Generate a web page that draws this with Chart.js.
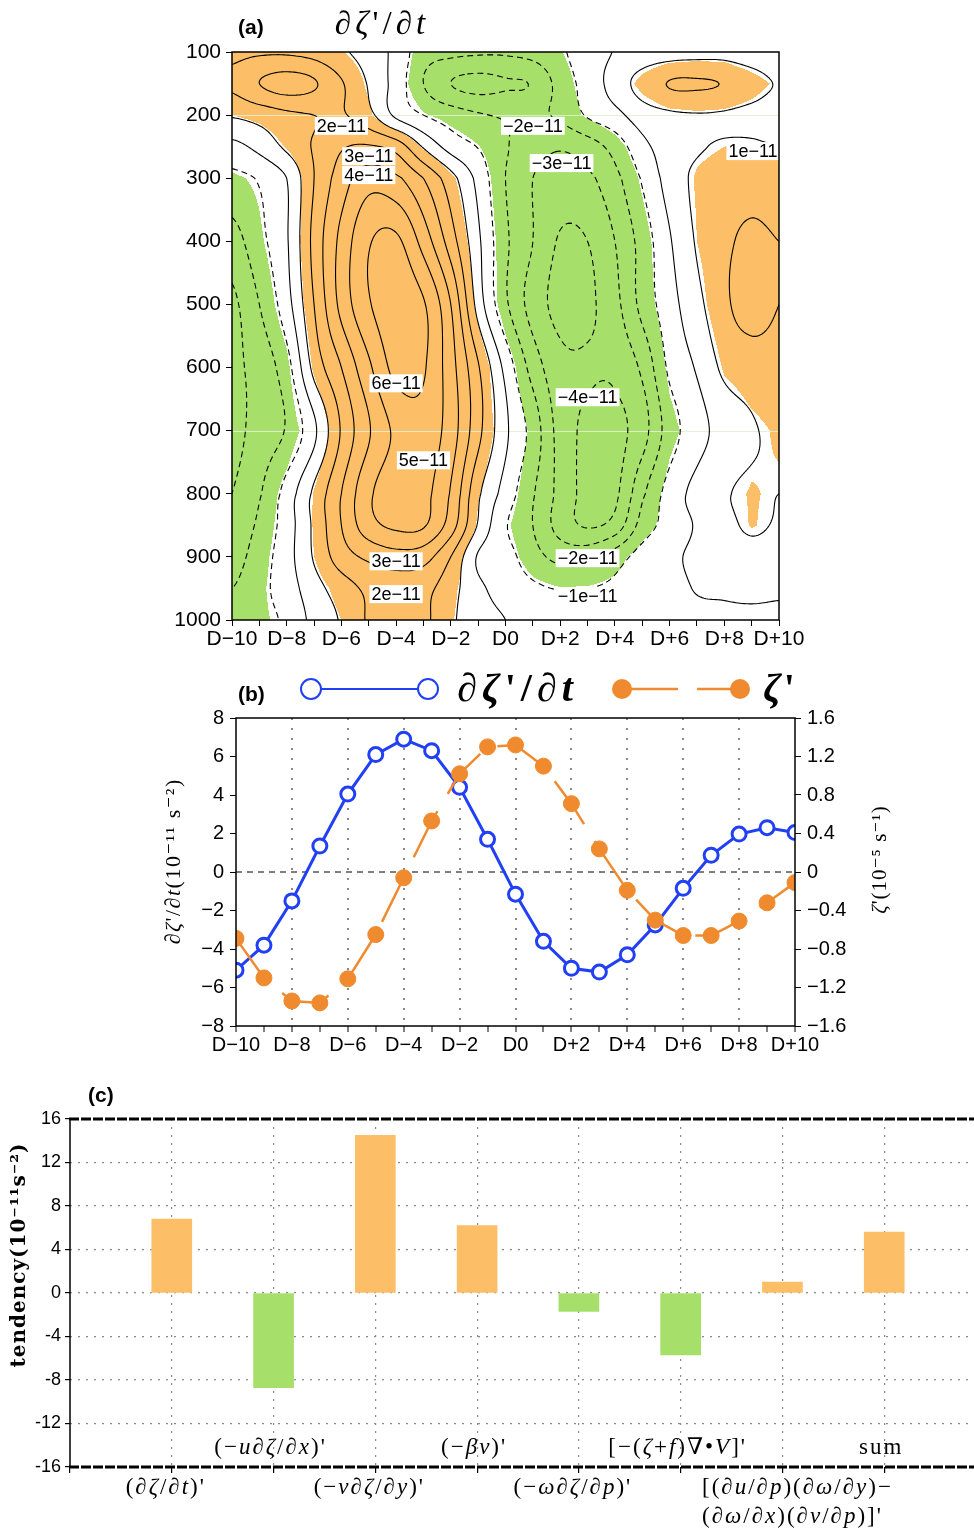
<!DOCTYPE html>
<html>
<head>
<meta charset="utf-8">
<script src="https://cdn.jsdelivr.net/npm/chart.js@4.4.1/dist/chart.umd.min.js"></script>
<style>
  html, body { margin: 0; padding: 0; background: #fff; overflow: hidden; width: 974px; height: 1531px; }
  #wrap { position: relative; width: 974px; height: 1531px; overflow: hidden; }
  canvas { position: absolute; left: 0; }
  #ca { top: 0; }
  #cb { top: 650px; }
  #cc { top: 1080px; }
</style>
</head>
<body>
<div id="wrap">
  <canvas id="ca" width="974" height="650"></canvas>
  <canvas id="cb" width="974" height="430"></canvas>
  <canvas id="cc" width="1000" height="451"></canvas>
</div>
<script>
// ---- data ----
const days = [-10,-9,-8,-7,-6,-5,-4,-3,-2,-1,0,1,2,3,4,5,6,7,8,9,10];
const dayLabels = ['D−10','','D−8','','D−6','','D−4','','D−2','','D0','','D+2','','D+4','','D+6','','D+8','','D+10'];
const levels = [100,150,200,250,300,400,500,600,700,800,850,900,950,1000];

// (a) d(zeta')/dt, 1e-11 s^-2, one row per pressure level, columns D-10 .. D+10
const p100  = [1.8, 1.9, 1.9, 1.7, 1.15, 0.6, -0.3, -1.6, -1.8, -1.9, -1.9, -1.7, -1.15, -0.5, 0.05, 0.4, 0.6, 0.7, 0.7, 0.4, 0.1];
const p150  = [2.2, 3.0, 3.4, 3.1, 2.1, 0.9, -0.4, -2.0, -3.0, -3.3, -3.1, -2.9, -1.6, -0.6, 0.4, 1.4, 2.05, 2.1, 1.95, 1.5, 0.9];
const p200  = [1.1, 1.4, 1.8, 2.0, 2.1, 1.3, -0.2, -1.0, -1.5, -1.9, -2.1, -2.2, -1.8, -0.9, -0.3, 0.5, 0.85, 0.95, 0.9, 0.7, 0.4];
const p250  = [-0.3, 0.3, 1.2, 2.1, 2.9, 3.1, 2.6, 0.9, -0.4, -1.05, -1.9, -2.6, -2.9, -2.5, -1.6, -0.3, 0.5, 0.9, 1.1, 1.15, 1.0];
const p300  = [-1.3, -0.9, 0.0, 2.0, 3.5, 4.6, 4.2, 3.0, 1.4, -0.3, -2.0, -3.0, -3.4, -3.2, -2.3, -0.9, 0.4, 1.2, 1.5, 1.6, 1.4];
const p400  = [-2.4, -1.3, -0.1, 2.3, 4.3, 5.9, 6.2, 4.6, 2.5, 0.2, -1.8, -3.0, -4.1, -4.0, -3.0, -1.6, -0.1, 1.1, 1.8, 2.2, 2.0];
const p500  = [-3.2, -2.0, -0.4, 2.0, 4.3, 5.9, 6.6, 6.1, 4.0, 0.6, -1.8, -3.4, -4.3, -4.2, -3.3, -1.7, -0.4, 0.7, 1.8, 2.4, 2.0];
const p600  = [-3.2, -2.6, -1.4, 1.3, 3.0, 4.8, 6.3, 6.1, 4.4, 2.1, -0.3, -2.4, -3.7, -3.9, -3.8, -2.8, -0.8, 0.1, 1.2, 1.5, 1.6];
const p700  = [-3.3, -2.6, -1.9, -0.2, 2.1, 3.9, 5.2, 5.6, 4.5, 2.3, 0.2, -1.4, -3.4, -4.2, -4.3, -3.4, -1.5, -0.4, 0.4, 0.9, 1.2];
const p800  = [-3.0, -2.1, -0.6, 1.2, 3.0, 4.8, 5.6, 5.3, 3.9, 1.2, -0.4, -1.9, -3.3, -4.3, -4.2, -2.2, -0.6, 0.3, 0.9, 1.15, 1.0];
const p850  = [-2.7, -1.8, -0.5, 1.2, 3.0, 4.6, 5.2, 5.1, 3.5, 0.9, -0.9, -2.0, -3.4, -4.1, -3.6, -1.6, -0.6, 0.1, 0.7, 1.15, 0.9];
const p900  = [-2.4, -1.5, -0.4, 1.1, 2.5, 3.2, 3.6, 3.4, 2.0, -0.1, -0.6, -1.6, -2.3, -2.3, -1.5, -0.6, -0.2, 0.2, 0.5, 0.6, 0.5];
const p950  = [-2.0, -1.3, -0.5, 0.6, 1.5, 2.2, 2.4, 2.3, 1.4, 0.2, -0.3, -0.8, -1.05, -1.0, -0.8, -0.5, -0.3, 0.05, 0.1, 0.15, 0.1];
const p1000 = [-1.5, -1.3, -0.8, 0.3, 1.1, 2.1, 2.3, 2.2, 1.2, 0.3, 0.0, -0.3, -0.6, -0.6, -0.5, -0.4, -0.3, -0.2, -0.1, -0.1, -0.1];
const field = [p100, p150, p200, p250, p300, p400, p500, p600, p700, p800, p850, p900, p950, p1000];

// contour labels: text, day, pressure
const contourLabels = [
  ['2e−11', -6.0, 217], ['3e−11', -5.0, 265], ['4e−11', -5.0, 295],
  ['−2e−11', 1.0, 217], ['−3e−11', 2.05, 276], ['1e−11', 9.05, 257],
  ['6e−11', -4.0, 625], ['−4e−11', 3.0, 647], ['5e−11', -3.0, 747],
  ['3e−11', -4.0, 907], ['−2e−11', 3.0, 902], ['2e−11', -4.0, 959], ['−1e−11', 3.0, 962]
];

// (b) series
const dzdt = [-5.1, -3.8, -1.5, 1.35, 4.05, 6.1, 6.9, 6.3, 4.4, 1.7, -1.15, -3.6, -5.0, -5.2, -4.3, -2.75, -0.85, 0.87, 1.97, 2.3, 2.05];
const zeta = [-0.69, -1.10, -1.34, -1.36, -1.11, -0.65, -0.06, 0.53, 1.02, 1.30, 1.32, 1.10, 0.71, 0.24, -0.19, -0.50, -0.66, -0.66, -0.51, -0.32, -0.11];

// (c) budget terms
const terms = ["(∂ζ/∂t)'", "(−u∂ζ/∂x)'", "(−v∂ζ/∂y)'", "(−βv)'", "(−ω∂ζ/∂p)'", "[−(ζ+f)∇•V]'", "[(∂u/∂p)(∂ω/∂y)−|(∂ω/∂x)(∂v/∂p)]'", "{sum}"];
const tendency = [6.8, -8.7, 14.5, 6.2, -1.7, -5.7, 1.0, 5.6];

// ---- styles ----
const orangeFill = '#fcbf67';
const greenFill = '#a6e06b';
const blue = '#2140f5';
const orange = '#f08a2e';
const sans = "'Liberation Sans', Arial, sans-serif";
const minus = v => (v < 0 ? '\u2212' : '') + Math.abs(v);

function drawMath(ctx, str, x, y, size, opt = {}) {
  const spacing = opt.spacing ?? 2;
  const bold = opt.bold ? 'bold ' : '';
  const fam = "'Liberation Serif','DejaVu Serif',serif";
  const runs = [];
  let upright = false;
  for (const ch of str) {
    if (ch === '{') { upright = true; continue; }
    if (ch === '}') { upright = false; continue; }
    const it = !upright && /[A-Za-zζωβ∂]/.test(ch);
    runs.push({ ch, font: (it ? 'italic ' : '') + bold + size + 'px ' + fam });
  }
  let total = -spacing;
  runs.forEach(r => { ctx.font = r.font; r.w = ctx.measureText(r.ch).width; total += r.w + spacing; });
  let cx = opt.align === 'left' ? x : x - total / 2;
  ctx.fillStyle = opt.color || '#000';
  ctx.textAlign = 'left';
  ctx.textBaseline = 'middle';
  runs.forEach(r => { ctx.font = r.font; ctx.fillText(r.ch, cx, y); cx += r.w + spacing; });
}

// ---- field interpolation ----
const nRow = levels.length, nCol = days.length;
const rowOf = p => {
  if (p <= levels[0]) return 0;
  for (let i = 0; i < nRow - 1; i++) {
    if (p <= levels[i + 1]) return i + (p - levels[i]) / (levels[i + 1] - levels[i]);
  }
  return nRow - 1;
};
const at = (i, j) => field[Math.max(0, Math.min(nRow - 1, i))][Math.max(0, Math.min(nCol - 1, j))];
const cr = (a, b, c, d, t) => b + 0.5 * t * (c - a + t * (2 * a - 5 * b + 4 * c - d + t * (3 * (b - c) + d - a)));
function smoothVal(fi, fj) {
  fi = Math.max(0, Math.min(nRow - 1, fi)); fj = Math.max(0, Math.min(nCol - 1, fj));
  const i = Math.min(Math.floor(fi), nRow - 2), j = Math.min(Math.floor(fj), nCol - 2);
  const ti = fi - i, tj = fj - j;
  const r = [];
  for (let k = -1; k <= 2; k++) r.push(cr(at(i + k, j - 1), at(i + k, j), at(i + k, j + 1), at(i + k, j + 2), tj));
  return cr(r[0], r[1], r[2], r[3], ti);
}
function linearVal(fi, fj) {
  fi = Math.max(0, Math.min(nRow - 1, fi)); fj = Math.max(0, Math.min(nCol - 1, fj));
  const i = Math.min(Math.floor(fi), nRow - 2), j = Math.min(Math.floor(fj), nCol - 2);
  const ti = fi - i, tj = fj - j;
  const top = at(i, j) * (1 - tj) + at(i, j + 1) * tj;
  const bot = at(i + 1, j) * (1 - tj) + at(i + 1, j + 1) * tj;
  return top * (1 - ti) + bot * ti;
}

// marching squares, segments keyed by grid edge
function isoLines(vals, xs, ys, level) {
  const segs = [], pts = new Map();
  const edge = (key, x1, y1, v1, x2, y2, v2) => {
    if (!pts.has(key)) {
      const t = (level - v1) / (v2 - v1);
      pts.set(key, [x1 + t * (x2 - x1), y1 + t * (y2 - y1)]);
    }
    return key;
  };
  for (let i = 0; i < ys.length - 1; i++) {
    for (let j = 0; j < xs.length - 1; j++) {
      const a = vals[i][j], b = vals[i][j + 1], c = vals[i + 1][j + 1], d = vals[i + 1][j];
      const idx = (a > level ? 8 : 0) | (b > level ? 4 : 0) | (c > level ? 2 : 0) | (d > level ? 1 : 0);
      if (idx === 0 || idx === 15) continue;
      const T = () => edge('h' + i + '_' + j, xs[j], ys[i], a, xs[j + 1], ys[i], b);
      const R = () => edge('v' + i + '_' + (j + 1), xs[j + 1], ys[i], b, xs[j + 1], ys[i + 1], c);
      const B = () => edge('h' + (i + 1) + '_' + j, xs[j], ys[i + 1], d, xs[j + 1], ys[i + 1], c);
      const L = () => edge('v' + i + '_' + j, xs[j], ys[i], a, xs[j], ys[i + 1], d);
      switch (idx) {
        case 1: case 14: segs.push([L(), B()]); break;
        case 2: case 13: segs.push([B(), R()]); break;
        case 3: case 12: segs.push([L(), R()]); break;
        case 4: case 11: segs.push([T(), R()]); break;
        case 6: case 9: segs.push([T(), B()]); break;
        case 7: case 8: segs.push([L(), T()]); break;
        default: {
          const m = (a + b + c + d) / 4;
          if ((idx === 5) === (m > level)) { segs.push([L(), T()]); segs.push([B(), R()]); }
          else { segs.push([T(), R()]); segs.push([L(), B()]); }
        }
      }
    }
  }
  // chain the segments into polylines
  const byKey = new Map();
  segs.forEach((s, k) => s.forEach(e => { if (!byKey.has(e)) byKey.set(e, []); byKey.get(e).push(k); }));
  const used = new Array(segs.length).fill(false);
  const lines = [];
  for (let k = 0; k < segs.length; k++) {
    if (used[k]) continue;
    used[k] = true;
    const line = [segs[k][0], segs[k][1]];
    for (const fwd of [true, false]) {
      for (;;) {
        const end = fwd ? line[line.length - 1] : line[0];
        const next = (byKey.get(end) || []).find(m => !used[m]);
        if (next === undefined) break;
        used[next] = true;
        const s = segs[next];
        const nk = s[0] === end ? s[1] : s[0];
        if (fwd) line.push(nk); else line.unshift(nk);
      }
    }
    lines.push(line.map(key => pts.get(key)));
  }
  return lines;
}

const contourPlugin = {
  id: 'contour',
  beforeDatasetsDraw(chart) {
    const { ctx, chartArea: a, scales: { x, y } } = chart;
    const L = Math.round(a.left), T = Math.round(a.top);
    const w = Math.round(a.right) - L, h = Math.round(a.bottom) - T;

    // shading (linear interpolation, like grid-box shading)
    const off = document.createElement('canvas');
    off.width = w; off.height = h;
    const octx = off.getContext('2d');
    const img = octx.createImageData(w, h);
    const cj = [], ri = [];
    for (let px = 0; px < w; px++) cj.push(x.getValueForPixel(L + px + 0.5) + 10);
    for (let py = 0; py < h; py++) ri.push(rowOf(y.getValueForPixel(T + py + 0.5)));
    const og = [252, 191, 103], gg = [166, 224, 107];
    for (let py = 0; py < h; py++) {
      for (let px = 0; px < w; px++) {
        const v = linearVal(ri[py], cj[px]);
        const col = v > 1.1 ? og : (v < -1.1 ? gg : null);
        if (!col) continue;
        const o = (py * w + px) * 4;
        img.data[o] = col[0]; img.data[o + 1] = col[1]; img.data[o + 2] = col[2]; img.data[o + 3] = 255;
      }
    }
    octx.putImageData(img, 0, 0);
    ctx.drawImage(off, L, T);

    ctx.save();
    ctx.beginPath();
    ctx.rect(a.left, a.top, a.right - a.left, a.bottom - a.top);
    ctx.clip();

    // faint lines seen at 200 and 700 hPa
    ctx.strokeStyle = 'rgba(225,240,210,0.9)';
    ctx.lineWidth = 1;
    [200, 700].forEach(p => {
      const yy = Math.round(y.getPixelForValue(p)) + 0.5;
      ctx.beginPath(); ctx.moveTo(a.left, yy); ctx.lineTo(a.right, yy); ctx.stroke();
    });

    // contour lines (smooth interpolation)
    const step = 2;
    const xs = [], ys = [];
    for (let px = 0; px <= w; px += step) xs.push(L + px);
    if (xs[xs.length - 1] !== L + w) xs.push(L + w);
    for (let py = 0; py <= h; py += step) ys.push(T + py);
    if (ys[ys.length - 1] !== T + h) ys.push(T + h);
    const xj = xs.map(X => x.getValueForPixel(X) + 10);
    const yi = ys.map(Y => rowOf(y.getValueForPixel(Y)));
    const vals = yi.map(fi => xj.map(fj => smoothVal(fi, fj)));
    ctx.strokeStyle = '#000';
    ctx.lineWidth = 1.1;
    for (let lev = -6; lev <= 6; lev++) {
      ctx.setLineDash(lev < 0 ? [6, 4] : []);
      isoLines(vals, xs, ys, lev).forEach(line => {
        ctx.beginPath();
        line.forEach((q, n) => n ? ctx.lineTo(q[0], q[1]) : ctx.moveTo(q[0], q[1]));
        ctx.stroke();
      });
    }
    ctx.setLineDash([]);

    // contour labels
    ctx.font = '18px ' + sans;
    ctx.textAlign = 'center';
    ctx.textBaseline = 'middle';
    contourLabels.forEach(([t, d, p]) => {
      const cx = x.getPixelForValue(d), cy = y.getPixelForValue(p);
      const tw = ctx.measureText(t).width;
      ctx.fillStyle = '#fff';
      ctx.fillRect(cx - tw / 2 - 2, cy - 9, tw + 4, 18);
      ctx.fillStyle = '#000';
      ctx.fillText(t, cx, cy + 1);
    });
    ctx.restore();
  },
  afterDraw(chart) {
    const { ctx, chartArea: a } = chart;
    ctx.save();
    ctx.strokeStyle = '#000';
    ctx.lineWidth = 1.5;
    ctx.strokeRect(a.left, a.top, a.right - a.left, a.bottom - a.top);
    ctx.font = 'bold 21px ' + sans;
    ctx.fillStyle = '#000';
    ctx.textAlign = 'left';
    ctx.textBaseline = 'middle';
    ctx.fillText('(a)', 238, 28);
    drawMath(ctx, "∂ζ'/∂t", 380, 25, 33, { spacing: 4 });
    ctx.restore();
  }
};

new Chart(document.getElementById('ca'), {
  type: 'scatter',
  data: { datasets: [{ data: [] }] },
  options: {
    responsive: false,
    animation: false,
    events: [],
    layout: { padding: { left: 172, right: 195, top: 52, bottom: 0 } },
    plugins: { legend: { display: false }, tooltip: { enabled: false } },
    scales: {
      x: {
        type: 'linear', min: -10, max: 10,
        afterFit: s => { s.height = 30; },
        ticks: { stepSize: 1, maxTicksLimit: 30, autoSkip: false, maxRotation: 0, padding: 1, color: '#000',
                 font: { family: sans, size: 21 }, callback: v => dayLabels[Math.round(v) + 10] },
        grid: { drawOnChartArea: false, tickColor: '#000', tickLength: 6 },
        border: { display: false }
      },
      y: {
        type: 'linear', min: 100, max: 1000, reverse: true,
        afterFit: s => { s.width = 60; },
        ticks: { stepSize: 100, maxTicksLimit: 30, padding: 5, color: '#000', font: { family: sans, size: 21 },
                 callback: v => String(v) },
        grid: { drawOnChartArea: false, tickColor: '#000', tickLength: 6 },
        border: { display: false }
      }
    }
  },
  plugins: [contourPlugin]
});

// ---- (b) ----
const panelB = {
  id: 'panelB',
  beforeDatasetsDraw(chart) {
    const { ctx, chartArea: a, scales: { y } } = chart;
    const y0 = y.getPixelForValue(0);
    ctx.save();
    ctx.strokeStyle = '#000';
    ctx.lineWidth = 1;
    ctx.setLineDash([6, 5]);
    ctx.beginPath(); ctx.moveTo(a.left, y0); ctx.lineTo(a.right, y0); ctx.stroke();
    ctx.restore();
  },
  afterDraw(chart) {
    const { ctx, chartArea: a } = chart;
    ctx.save();
    ctx.strokeStyle = '#000';
    ctx.lineWidth = 1.5;
    ctx.strokeRect(a.left, a.top, a.right - a.left, a.bottom - a.top);
    ctx.font = 'bold 21px ' + sans;
    ctx.fillStyle = '#000';
    ctx.textAlign = 'left';
    ctx.textBaseline = 'middle';
    ctx.fillText('(b)', 238, 45);

    // legend
    ctx.lineWidth = 2;
    ctx.strokeStyle = blue;
    ctx.beginPath(); ctx.moveTo(311, 39); ctx.lineTo(428, 39); ctx.stroke();
    [311, 428].forEach(cx => {
      ctx.beginPath(); ctx.arc(cx, 39, 10, 0, Math.PI * 2);
      ctx.fillStyle = '#fff'; ctx.fill(); ctx.stroke();
    });
    drawMath(ctx, "∂ζ'/∂t", 515, 41, 40, { spacing: 5, bold: true });
    ctx.strokeStyle = orange;
    ctx.lineWidth = 2.5;
    ctx.setLineDash([56, 19]);
    ctx.beginPath(); ctx.moveTo(622, 39); ctx.lineTo(740, 39); ctx.stroke();
    ctx.setLineDash([]);
    ctx.fillStyle = orange;
    [622, 740].forEach(cx => { ctx.beginPath(); ctx.arc(cx, 39, 10, 0, Math.PI * 2); ctx.fill(); });
    drawMath(ctx, "ζ'", 779, 41, 40, { spacing: 3, bold: true });

    // axis titles
    ctx.save(); ctx.translate(174, 212); ctx.rotate(-Math.PI / 2);
    drawMath(ctx, "∂ζ'/∂t{(10⁻¹¹ s⁻²)}", 0, 0, 22, { spacing: 1.5 });
    ctx.restore();
    ctx.save(); ctx.translate(880, 210); ctx.rotate(-Math.PI / 2);
    drawMath(ctx, "ζ'{(10⁻⁵ s⁻¹)}", 0, 0, 21, { spacing: 1 });
    ctx.restore();
    ctx.restore();
  }
};

new Chart(document.getElementById('cb'), {
  type: 'line',
  data: {
    datasets: [
      {
        label: "ζ'",
        data: days.map((d, i) => ({ x: d, y: zeta[i] })),
        yAxisID: 'y1',
        borderColor: orange,
        borderWidth: 2.5,
        borderDash: [52, 20],
        pointRadius: 8,
        pointBackgroundColor: orange,
        pointBorderColor: orange,
        pointBorderWidth: 1,
        tension: 0
      },
      {
        label: "∂ζ'/∂t",
        data: days.map((d, i) => ({ x: d, y: dzdt[i] })),
        yAxisID: 'y',
        borderColor: blue,
        borderWidth: 3,
        pointRadius: 7,
        pointBackgroundColor: '#fff',
        pointBorderColor: blue,
        pointBorderWidth: 3,
        tension: 0
      }
    ]
  },
  options: {
    responsive: false,
    animation: false,
    events: [],
    layout: { padding: { left: 156, right: 99, top: 68, bottom: 20 } },
    plugins: { legend: { display: false }, tooltip: { enabled: false } },
    scales: {
      x: {
        type: 'linear', min: -10, max: 10,
        afterFit: s => { s.height = 34; },
        ticks: { stepSize: 1, maxTicksLimit: 30, autoSkip: false, maxRotation: 0, padding: 1, color: '#000',
                 font: { family: sans, size: 20 }, callback: v => dayLabels[Math.round(v) + 10] },
        grid: {
          color: c => (c.tick && c.tick.value % 2 === 0 && Math.abs(c.tick.value) < 10) ? '#8a8a8a' : 'rgba(0,0,0,0)',
          lineWidth: 2, tickColor: '#000', tickLength: 6, tickWidth: 1
        },
        border: { display: false, dash: [2, 8] }
      },
      y: {
        position: 'left', min: -8, max: 8,
        afterFit: s => { s.width = 80; },
        ticks: { stepSize: 2, padding: 6, color: '#000', font: { family: sans, size: 20 }, callback: v => minus(v) },
        grid: { drawOnChartArea: false, tickColor: '#000', tickLength: 6 },
        border: { display: false }
      },
      y1: {
        position: 'right', min: -1.6, max: 1.6,
        afterFit: s => { s.width = 80; },
        ticks: { stepSize: 0.4, padding: 6, color: '#000', font: { family: sans, size: 20 },
                 callback: v => { const r = Math.round(v * 10) / 10; return r === 0 ? '0' : (r < 0 ? '\u2212' : '') + Math.abs(r).toFixed(1); } },
        grid: { drawOnChartArea: false, tickColor: '#000', tickLength: 6 },
        border: { display: false }
      }
    }
  },
  plugins: [panelB]
});

// ---- (c) ----
const panelC = {
  id: 'panelC',
  afterDraw(chart) {
    const { ctx, chartArea: a, scales: { x } } = chart;
    ctx.save();
    ctx.strokeStyle = '#000';
    ctx.lineWidth = 1.5;
    ctx.beginPath(); ctx.moveTo(a.left, a.top); ctx.lineTo(a.left, a.bottom); ctx.stroke();
    ctx.lineWidth = 3;
    ctx.setLineDash([10, 2]);
    [a.top, a.bottom].forEach(yy => { ctx.beginPath(); ctx.moveTo(a.left - 1, yy); ctx.lineTo(a.right, yy); ctx.stroke(); });
    ctx.setLineDash([]);

    ctx.font = 'bold 21px ' + sans;
    ctx.fillStyle = '#000';
    ctx.textAlign = 'left';
    ctx.textBaseline = 'middle';
    ctx.fillText('(c)', 88, 16);

    ctx.save(); ctx.translate(20, 175); ctx.rotate(-Math.PI / 2);
    ctx.font = "bold 20px 'DejaVu Serif', serif";
    ctx.textAlign = 'center';
    ctx.letterSpacing = '1px';
    ctx.fillText('tendency(10⁻¹¹s⁻²)', 0, 0);
    ctx.restore();

    terms.forEach((t, i) => {
      const cx = x.getPixelForValue(i + 1);
      const lines = t.split('|');
      if (i % 2 === 1) {
        drawMath(ctx, lines[0], cx - 4, a.bottom - 19, 23, { spacing: 2 });
      } else if (lines.length > 1) {
        drawMath(ctx, lines[0], cx + 14, a.bottom + 21, 23, { spacing: 2 });
        drawMath(ctx, lines[1], cx + 9, a.bottom + 50, 23, { spacing: 2 });
      } else {
        drawMath(ctx, lines[0], cx - 7, a.bottom + 21, 23, { spacing: 2 });
      }
    });
    ctx.restore();
  }
};

new Chart(document.getElementById('cc'), {
  type: 'bar',
  data: {
    datasets: [{
      data: tendency.map((v, i) => ({ x: i + 1, y: v })),
      backgroundColor: tendency.map(v => v >= 0 ? orangeFill : greenFill),
      barThickness: 40,
      borderWidth: 0
    }]
  },
  options: {
    responsive: false,
    animation: false,
    events: [],
    layout: { padding: { left: 0, right: 14, top: 39, bottom: 0 } },
    plugins: { legend: { display: false }, tooltip: { enabled: false } },
    scales: {
      x: {
        type: 'linear', min: 0, max: 9, offset: false,
        afterFit: s => { s.height = 64; },
        ticks: { stepSize: 1, maxTicksLimit: 30, autoSkip: false, callback: () => '' },
        grid: {
          offset: false,
          color: c => (c.tick && c.tick.value >= 1 && c.tick.value <= 8) ? '#8a8a8a' : 'rgba(0,0,0,0)',
          lineWidth: 1.2, tickColor: '#000', tickLength: 6
        },
        border: { display: false, dash: [2, 6] }
      },
      y: {
        min: -16, max: 16,
        afterFit: s => { s.width = 70; },
        ticks: { stepSize: 4, padding: 4, color: '#000', font: { family: "'Liberation Sans Narrow', 'Liberation Sans', sans-serif", size: 18 },
                 callback: v => String(v) },
        grid: {
          color: c => (c.tick && Math.abs(c.tick.value) < 16) ? '#8a8a8a' : 'rgba(0,0,0,0)',
          lineWidth: 1.2, tickColor: '#000', tickLength: 5
        },
        border: { display: false, dash: [2, 6] }
      }
    }
  },
  plugins: [panelC]
});
</script>
</body>
</html>
